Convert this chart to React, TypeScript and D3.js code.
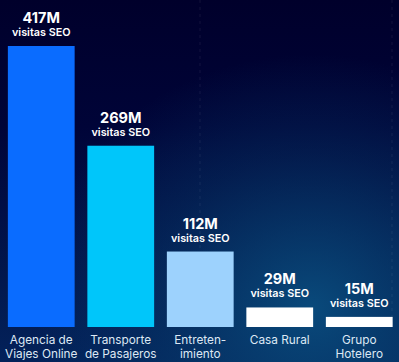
import React from 'react';
import * as d3 from 'd3';

const categories = [
  ['Agencia de', 'Viajes Online'],
  ['Transporte', 'de Pasajeros'],
  ['Entreten-', 'imiento'],
  ['Casa Rural'],
  ['Grupo', 'Hotelero'],
];
const values = [417, 269, 112, 29, 15];
const valueLabels = ['417M', '269M', '112M', '29M', '15M'];
const subLabel = 'visitas SEO';
const barColors = ['#0a6cff', '#00c6fa', '#9dd2fd', '#ffffff', '#ffffff'];

export default function App() {
  const width = 399;
  const height = 362;
  const baseY = 327;
  const topY = 46;
  const font = 'Inter, Roboto, sans-serif';

  const x = d3
    .scaleBand<number>()
    .domain(d3.range(categories.length))
    .range([1.5, 399])
    .paddingInner(0.16)
    .paddingOuter(0.08);

  const y = d3.scaleLinear().domain([0, d3.max(values) as number]).range([baseY, topY]);

  return (
    <svg
      width={width}
      height={height}
      style={{ position: 'fixed', left: 0, top: 0, display: 'block' }}
      xmlns="http://www.w3.org/2000/svg">
      <defs>
        <linearGradient id="bg" x1="0" y1="0" x2="0" y2="1">
          <stop offset="0" stopColor="#00002b" />
          <stop offset="0.35" stopColor="#000438" />
          <stop offset="1" stopColor="#03225a" />
        </linearGradient>
        <radialGradient id="glow" cx="0.78" cy="0.85" r="0.7">
          <stop offset="0" stopColor="#0a4f80" stopOpacity="0.9" />
          <stop offset="0.6" stopColor="#08406e" stopOpacity="0.35" />
          <stop offset="1" stopColor="#08406e" stopOpacity="0" />
        </radialGradient>
        <linearGradient id="axis" x1="0" y1="0" x2="1" y2="0">
          <stop offset="0" stopColor="#0e3f7a" />
          <stop offset="1" stopColor="#2a9ad8" />
        </linearGradient>
      </defs>
      <rect width={width} height={height} fill="url(#bg)" />
      <rect width={width} height={height} fill="url(#glow)" />

      <g key="grid" stroke="#ffffff" strokeOpacity={0.07} strokeDasharray="3,4">
        {[200, 392].map((gx) => (
          <line key={gx} x1={gx} x2={gx} y1={0} y2={baseY} />
        ))}
      </g>

      <g key="bars">
        {values.map((v, i) => (
          <rect
            key={i}
            x={x(i)}
            y={y(v)}
            width={x.bandwidth()}
            height={baseY - y(v)}
            fill={barColors[i]} />
        ))}
      </g>

      <line x1={0} x2={width} y1={baseY + 1} y2={baseY + 1} stroke="url(#axis)" strokeWidth={1.5} />

      <g key="value-labels" fill="#ffffff" textAnchor="middle" style={{ fontFamily: font }}>
        {values.map((v, i) => {
          const cx = (x(i) as number) + x.bandwidth() / 2;
          return (
            <g key={i}>
              <text x={cx} y={y(v) - 23} fontSize={14.5} fontWeight={700}>{valueLabels[i]}</text>
              <text x={cx} y={y(v) - 10} fontSize={10.8} fontWeight={600}>{subLabel}</text>
            </g>
          );
        })}
      </g>

      <g key="category-labels" fill="#dde8f4" textAnchor="middle" style={{ fontFamily: font }} fontSize={11.8}>
        {categories.map((lines, i) => {
          const cx = (x(i) as number) + x.bandwidth() / 2;
          return (
            <text key={i} x={cx} y={344}>
              {lines.map((l, j) => (
                <tspan key={j} x={cx} dy={j === 0 ? 0 : 13.5}>{l}</tspan>
              ))}
            </text>
          );
        })}
      </g>
    </svg>
  );
}
